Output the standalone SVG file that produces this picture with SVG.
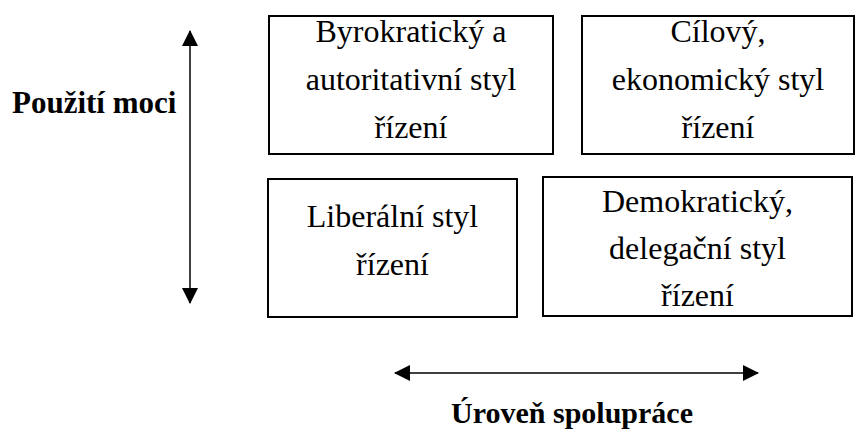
<svg xmlns="http://www.w3.org/2000/svg" width="856" height="433" viewBox="0 0 856 433">
<style>
.box{fill:#fff;stroke:#000;stroke-width:2}
.t{font-family:"Liberation Serif","Times New Roman",serif;font-size:32px;fill:#000;text-anchor:middle}
.b{font-family:"Liberation Serif","Times New Roman",serif;font-size:30px;font-weight:bold;fill:#000}
.ln{stroke:#000;stroke-width:1.5;fill:none}
</style>
<defs>
<marker id="ah" viewBox="0 0 16 16" refX="15" refY="8" markerWidth="16" markerHeight="16" markerUnits="userSpaceOnUse" orient="auto-start-reverse">
<path d="M0,0 L16,8 L0,16 Z" fill="#000"/>
</marker>
</defs>
<rect width="856" height="433" fill="#fff"/>
<g id="n1"><rect class="box" x="269" y="16" width="284" height="138"/>
<text class="t" x="411" y="42">Byrokratický a</text>
<text class="t" x="411" y="90">autoritativní styl</text>
<text class="t" x="411" y="138">řízení</text></g>
<g id="n2"><rect class="box" x="582" y="16" width="272" height="138"/>
<text class="t" x="718" y="42">Cílový,</text>
<text class="t" x="718" y="90">ekonomický styl</text>
<text class="t" x="718" y="138">řízení</text></g>
<g id="n3"><rect class="box" x="268" y="179" width="249" height="138"/>
<text class="t" x="392.5" y="227">Liberální styl</text>
<text class="t" x="392.5" y="275">řízení</text></g>
<g id="n4"><rect class="box" x="543" y="177" width="309" height="139"/>
<text class="t" x="697.5" y="212">Demokratický,</text>
<text class="t" x="697.5" y="259">delegační styl</text>
<text class="t" x="697.5" y="306">řízení</text></g>
<g id="connectors">
<line class="ln" x1="190" y1="31" x2="190" y2="303" marker-start="url(#ah)" marker-end="url(#ah)"/>
<line class="ln" x1="395" y1="373" x2="758" y2="373" marker-start="url(#ah)" marker-end="url(#ah)"/>
</g>
<text class="b" x="12" y="113" style="font-size:31px">Použití moci</text>
<text class="b" x="572" y="423" text-anchor="middle">Úroveň spolupráce</text>
</svg>
